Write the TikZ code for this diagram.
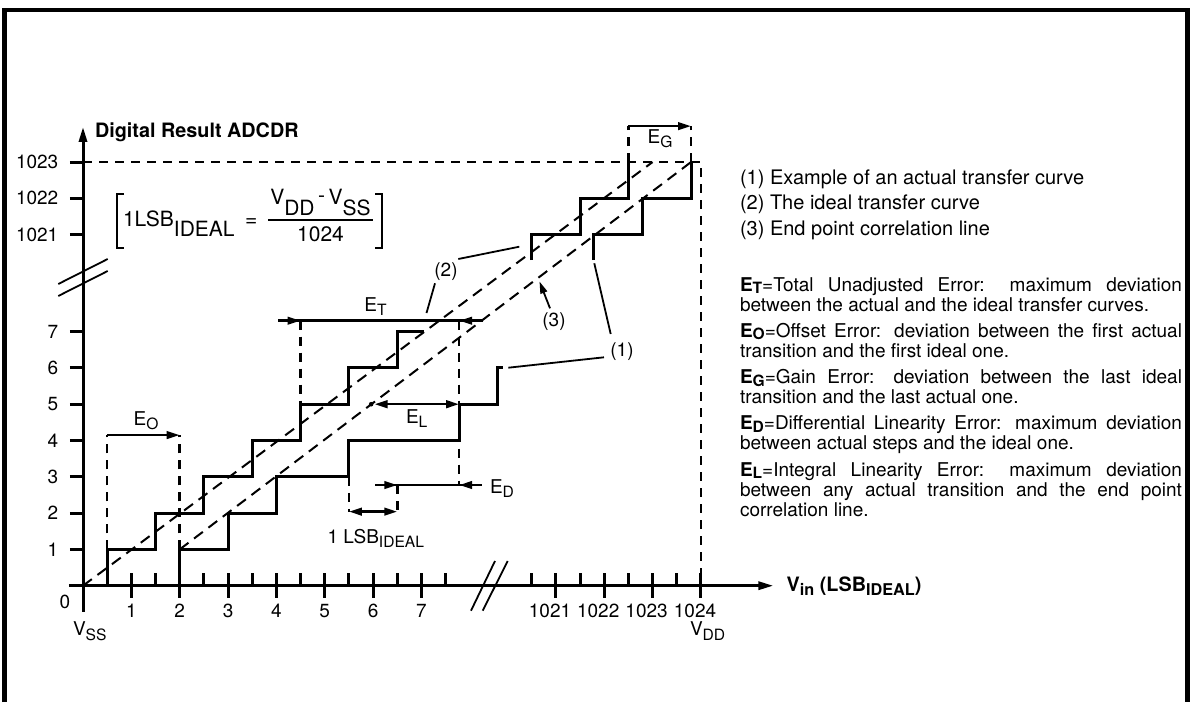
\documentclass[tikz,border=0pt]{standalone}
\usepackage{fontspec}
\setmainfont{TeX Gyre Heros}
\usepackage{graphicx}
\usetikzlibrary{arrows.meta}
\newcommand\lo[2][0.22em]{\raisebox{-#1}{\scalebox{0.82}{#2}}}
\newcommand\fs[1]{\fontsize{#1}{#1}\selectfont}
\begin{document}
\begin{tikzpicture}[x=1pt,y=-1pt,
  every node/.style={inner sep=0pt, outer sep=0pt},
  axisln/.style={line width=3pt},
  stair/.style={line width=3pt, line join=miter},
  dimdash/.style={line width=2.5pt, dash pattern=on 9pt off 7pt},
  diag/.style={line width=2pt, dash pattern=on 11pt off 7pt},
  leader/.style={line width=1.8pt},
  dimln/.style={line width=2.5pt},
  tipr/.style={-{Triangle[length=13pt,width=7.5pt]}},
  tipb/.style={{Triangle[length=13pt,width=7.5pt]}-{Triangle[length=13pt,width=7.5pt]}},
  lbl/.style={font=\fs{19}},
  txt/.style={font=\fs{20}, anchor=base west},
  desc/.style={font=\fs{19}, anchor=base west},
]
\useasboundingbox (0,0) rectangle (1192,702);
% frame
\draw[line width=4.5pt] (4.5,702) -- (4.5,10) -- (1187.5,10) -- (1187.5,702);

% ---------------- graph ----------------
\begin{scope}[shift={(83,585.7)}, x=48.35pt, y=36.3pt]
  % dashed limits 1023 / 1024
  \draw[dimdash] (0,11.67) -- (12.78,11.67) -- (12.78,0.36);
  % diagonals
  \draw[diag] (0,0) -- (11.78,11.67);
  \draw[diag] (2,1) -- (12.575,11.67);
  % axes
  \draw[axisln, -{Triangle[length=15pt,width=8pt]}] (0,-0.716) -- (0,12.64);
  \draw[axisln, -{Triangle[length=15pt,width=8pt]}] (-0.29,0) -- (14.28,0);
  \foreach \k in {1,...,7,9.78,10.78,11.78,12.78}
    \draw[axisln] (\k,0.345) -- (\k,-0.345);
  \foreach \k in {0.5,1.5,2.5,3.5,4.5,5.5,6.5,7.5,9.28,10.28,11.28,12.28}
    \draw[axisln] (\k,0) -- (\k,0.345);
  \foreach \k in {1,...,7,9.67,10.67,11.67}
    \draw[axisln] (-0.269,\k) -- (0,\k);
  % ideal transfer curve
  \draw[stair] (0.5,0) -- (0.5,1) -- (1.5,1) -- (1.5,2) -- (2.5,2) -- (2.5,3)
     -- (3.5,3) -- (3.5,4) -- (4.5,4) -- (4.5,5) -- (5.5,5) -- (5.5,6)
     -- (6.5,6) -- (6.5,7) -- (7.05,7);
  \draw[stair] (9.28,8.97) -- (9.28,9.67) -- (10.28,9.67) -- (10.28,10.67)
     -- (11.28,10.67) -- (11.28,11.67);
  % actual transfer curve
  \draw[stair] (2,0) -- (2,1) -- (3,1) -- (3,2) -- (4,2) -- (4,3) -- (5.5,3)
     -- (5.5,4) -- (7.78,4) -- (7.78,5) -- (8.58,5) -- (8.58,6) -- (8.69,6);
  \draw[stair] (10.55,8.97) -- (10.55,9.67) -- (11.57,9.67) -- (11.57,10.67)
     -- (12.575,10.67) -- (12.575,11.67);
  % E_O
  \draw[dimdash] (0.5,1) -- (0.5,4.15);
  \draw[dimdash] (2,1) -- (2,4.15);
  \draw[dimln, tipr] (0.5,4.15) -- (2,4.15);
  % E_T
  \draw[dimdash] (4.5,7.3) -- (4.5,5);
  \draw[dimdash] (7.78,7.3) -- (7.78,2.774);
  \draw[dimln] (4.04,7.3) -- (8.28,7.3);
  \draw[dimln, tipr] (4.04,7.3) -- (4.5,7.3);
  \draw[dimln, tipr] (8.28,7.3) -- (7.78,7.3);
  % E_L
  \fill (5.96,5) circle[radius=2.3pt];
  \draw[dimln, tipb] (6.03,5) -- (7.78,5);
  % E_D
  \draw[dimln] (6.04,2.774) -- (8.25,2.774);
  \draw[dimln, tipr] (6.04,2.774) -- (6.5,2.774);
  \draw[dimln, tipr] (8.25,2.774) -- (7.78,2.774);
  % 1 LSB
  \draw[dimdash] (5.5,3) -- (5.5,2.04);
  \draw[dimdash] (6.5,2.774) -- (6.5,2.04);
  \draw[dimln, tipb] (5.5,2.04) -- (6.5,2.04);
  % E_G
  \draw[dimdash] (11.28,11.67) -- (11.28,12.66);
  \draw[dimdash] (12.575,11.67) -- (12.575,12.66);
  \draw[dimln, tipr] (11.28,12.66) -- (12.575,12.66);
\end{scope}

% axis breaks
\draw[leader] (58.3,284) -- (107.7,259);
\draw[leader] (58.3,296) -- (107.7,271);
\draw[leader] (471,610.7) -- (495,561);
\draw[leader] (482.7,610.7) -- (507.7,561);

% axis titles
\node[anchor=base west, font=\bfseries\fs{19.8}] (ytitle) at (95,137.3) {Digital Result ADCDR};
\node[anchor=base west, font=\bfseries\fs{19.8}] (xtitle) at (786.7,591.7) {V\lo[3.3pt]{in} (LSB\lo[3.3pt]{IDEAL})};

% y tick labels
\foreach \k in {1,...,7}
  \node[lbl, anchor=east] (yl\k) at (58.3,{585.7-36.3*\k}) {\k};
\node[lbl, anchor=east] (yl1021) at (58.3,234.7) {1021};
\node[lbl, anchor=east] (yl1022) at (58.3,198.4) {1022};
\node[lbl, anchor=east] (yl1023) at (58.3,162.1) {1023};
\node[lbl] (zero) at (65,601.7) {0};
% x tick labels
\foreach \k in {1,...,7}
  \node[lbl, anchor=base] (xl\k) at ({83+48.35*\k},617) {\k};
\node[lbl, anchor=base] (xl1021) at (550,617) {1021};
\node[lbl, anchor=base] (xl1022) at (598.2,617) {1022};
\node[lbl, anchor=base] (xl1023) at (646.6,617) {1023};
\node[lbl, anchor=base] (xl1024) at (695,617) {1024};
\node[lbl, anchor=base west] (vss) at (73,635) {V\lo[5pt]{SS}};
\node[lbl, anchor=base west] (vdd) at (690,635) {V\lo[5pt]{DD}};

% formula
\draw[line width=1.8pt] (124,194) -- (117.3,194) -- (117.3,248.3) -- (124,248.3);
\draw[line width=1.8pt] (375,194) -- (381.7,194) -- (381.7,248.3) -- (375,248.3);
\node[font=\fs{21}, anchor=base west] (lsbdef) at (123,226.7) {1LSB\raisebox{-10pt}{IDEAL}};
\node[font=\fs{21}, anchor=base west] (eqs) at (245,226.7) {=};
\node[font=\fs{21}, anchor=base] (numer) at (320.5,204) {V\raisebox{-11pt}{DD}\,\raisebox{2pt}{-}\,V\raisebox{-11pt}{SS}};
\node[font=\fs{21}, anchor=base] (denom) at (320.5,241.7) {1024};
\draw[line width=1.6pt] (268,220) -- (372.7,220);

% error labels
\node[lbl, anchor=base] (eo) at (146,425) {E\lo{O}};
\node[lbl, anchor=base] (et) at (375.5,311.7) {E\lo{T}};
\node[lbl, anchor=base] (el) at (416.7,423.3) {E\lo{L}};
\node[lbl, anchor=base west] (ed) at (490,493.3) {E\lo{D}};
\node[lbl, anchor=base] (lsb) at (375.8,543.3) {1 LSB\lo{IDEAL}};
\node[lbl, anchor=base] (eg) at (660,143.3) {E\lo{G}};

% curve labels and leaders
\node[lbl] (c1) at (622,352) {(1)};
\node[lbl] (c2) at (446,272) {(2)};
\node[lbl] (c3) at (554,321.7) {(3)};
\coordinate (c1a) at (610.7,334);   \coordinate (c1b) at (594.3,263.3);
\coordinate (c1c) at (604,357.3);   \coordinate (c1d) at (508.3,367.7);
\coordinate (c2a) at (458.3,259);   \coordinate (c2b) at (519.3,246.7);
\coordinate (c2c) at (435,283.3);   \coordinate (c2d) at (426.5,313);
\coordinate (c3a) at (550,308.3);   \coordinate (c3b) at (539.5,281.5);
\draw[leader] (c1a) -- (c1b);
\draw[leader] (c1c) -- (c1d);
\draw[leader] (c2a) -- (c2b);
\draw[leader] (c2c) -- (c2d);
\draw[leader, -{Triangle[length=12pt,width=7pt]}] (c3a) -- (c3b);

% legend
\node[txt] (lg1) at (740,184) {(1) Example of an actual transfer curve};
\node[txt] (lg2) at (740,209.3) {(2) The ideal transfer curve};
\node[txt] (lg3) at (740,235) {(3) End point correlation line};

% descriptions
\node[desc] (dt1) at (740,291.2) {\makebox[442pt][s]{\textbf{E\lo[2.5pt]{T}}=Total Unadjusted Error: maximum deviation}};
\node[desc] (dt2) at (740,311.2) {between the actual and the ideal transfer curves.};
\node[desc] (do1) at (740,337.4) {\makebox[442pt][s]{\textbf{E\lo[2.5pt]{O}}=Offset Error: deviation between the first actual}};
\node[desc] (do2) at (740,357.4) {transition and the first ideal one.};
\node[desc] (dg1) at (740,383.6) {\makebox[442pt][s]{\textbf{E\lo[2.5pt]{G}}=Gain Error: deviation between the last ideal}};
\node[desc] (dg2) at (740,403.6) {transition and the last actual one.};
\node[desc] (dd1) at (740,429.8) {\makebox[442pt][s]{\textbf{E\lo[2.5pt]{D}}=Differential Linearity Error: maximum deviation}};
\node[desc] (dd2) at (740,449.8) {between actual steps and the ideal one.};
\node[desc] (dl1) at (740,476) {\makebox[442pt][s]{\textbf{E\lo[2.5pt]{L}}=Integral Linearity Error: maximum deviation}};
\node[desc] (dl2) at (740,496) {\makebox[442pt][s]{between any actual transition and the end point}};
\node[desc] (dl3) at (740,516) {correlation line.};
\end{tikzpicture}
\end{document}
